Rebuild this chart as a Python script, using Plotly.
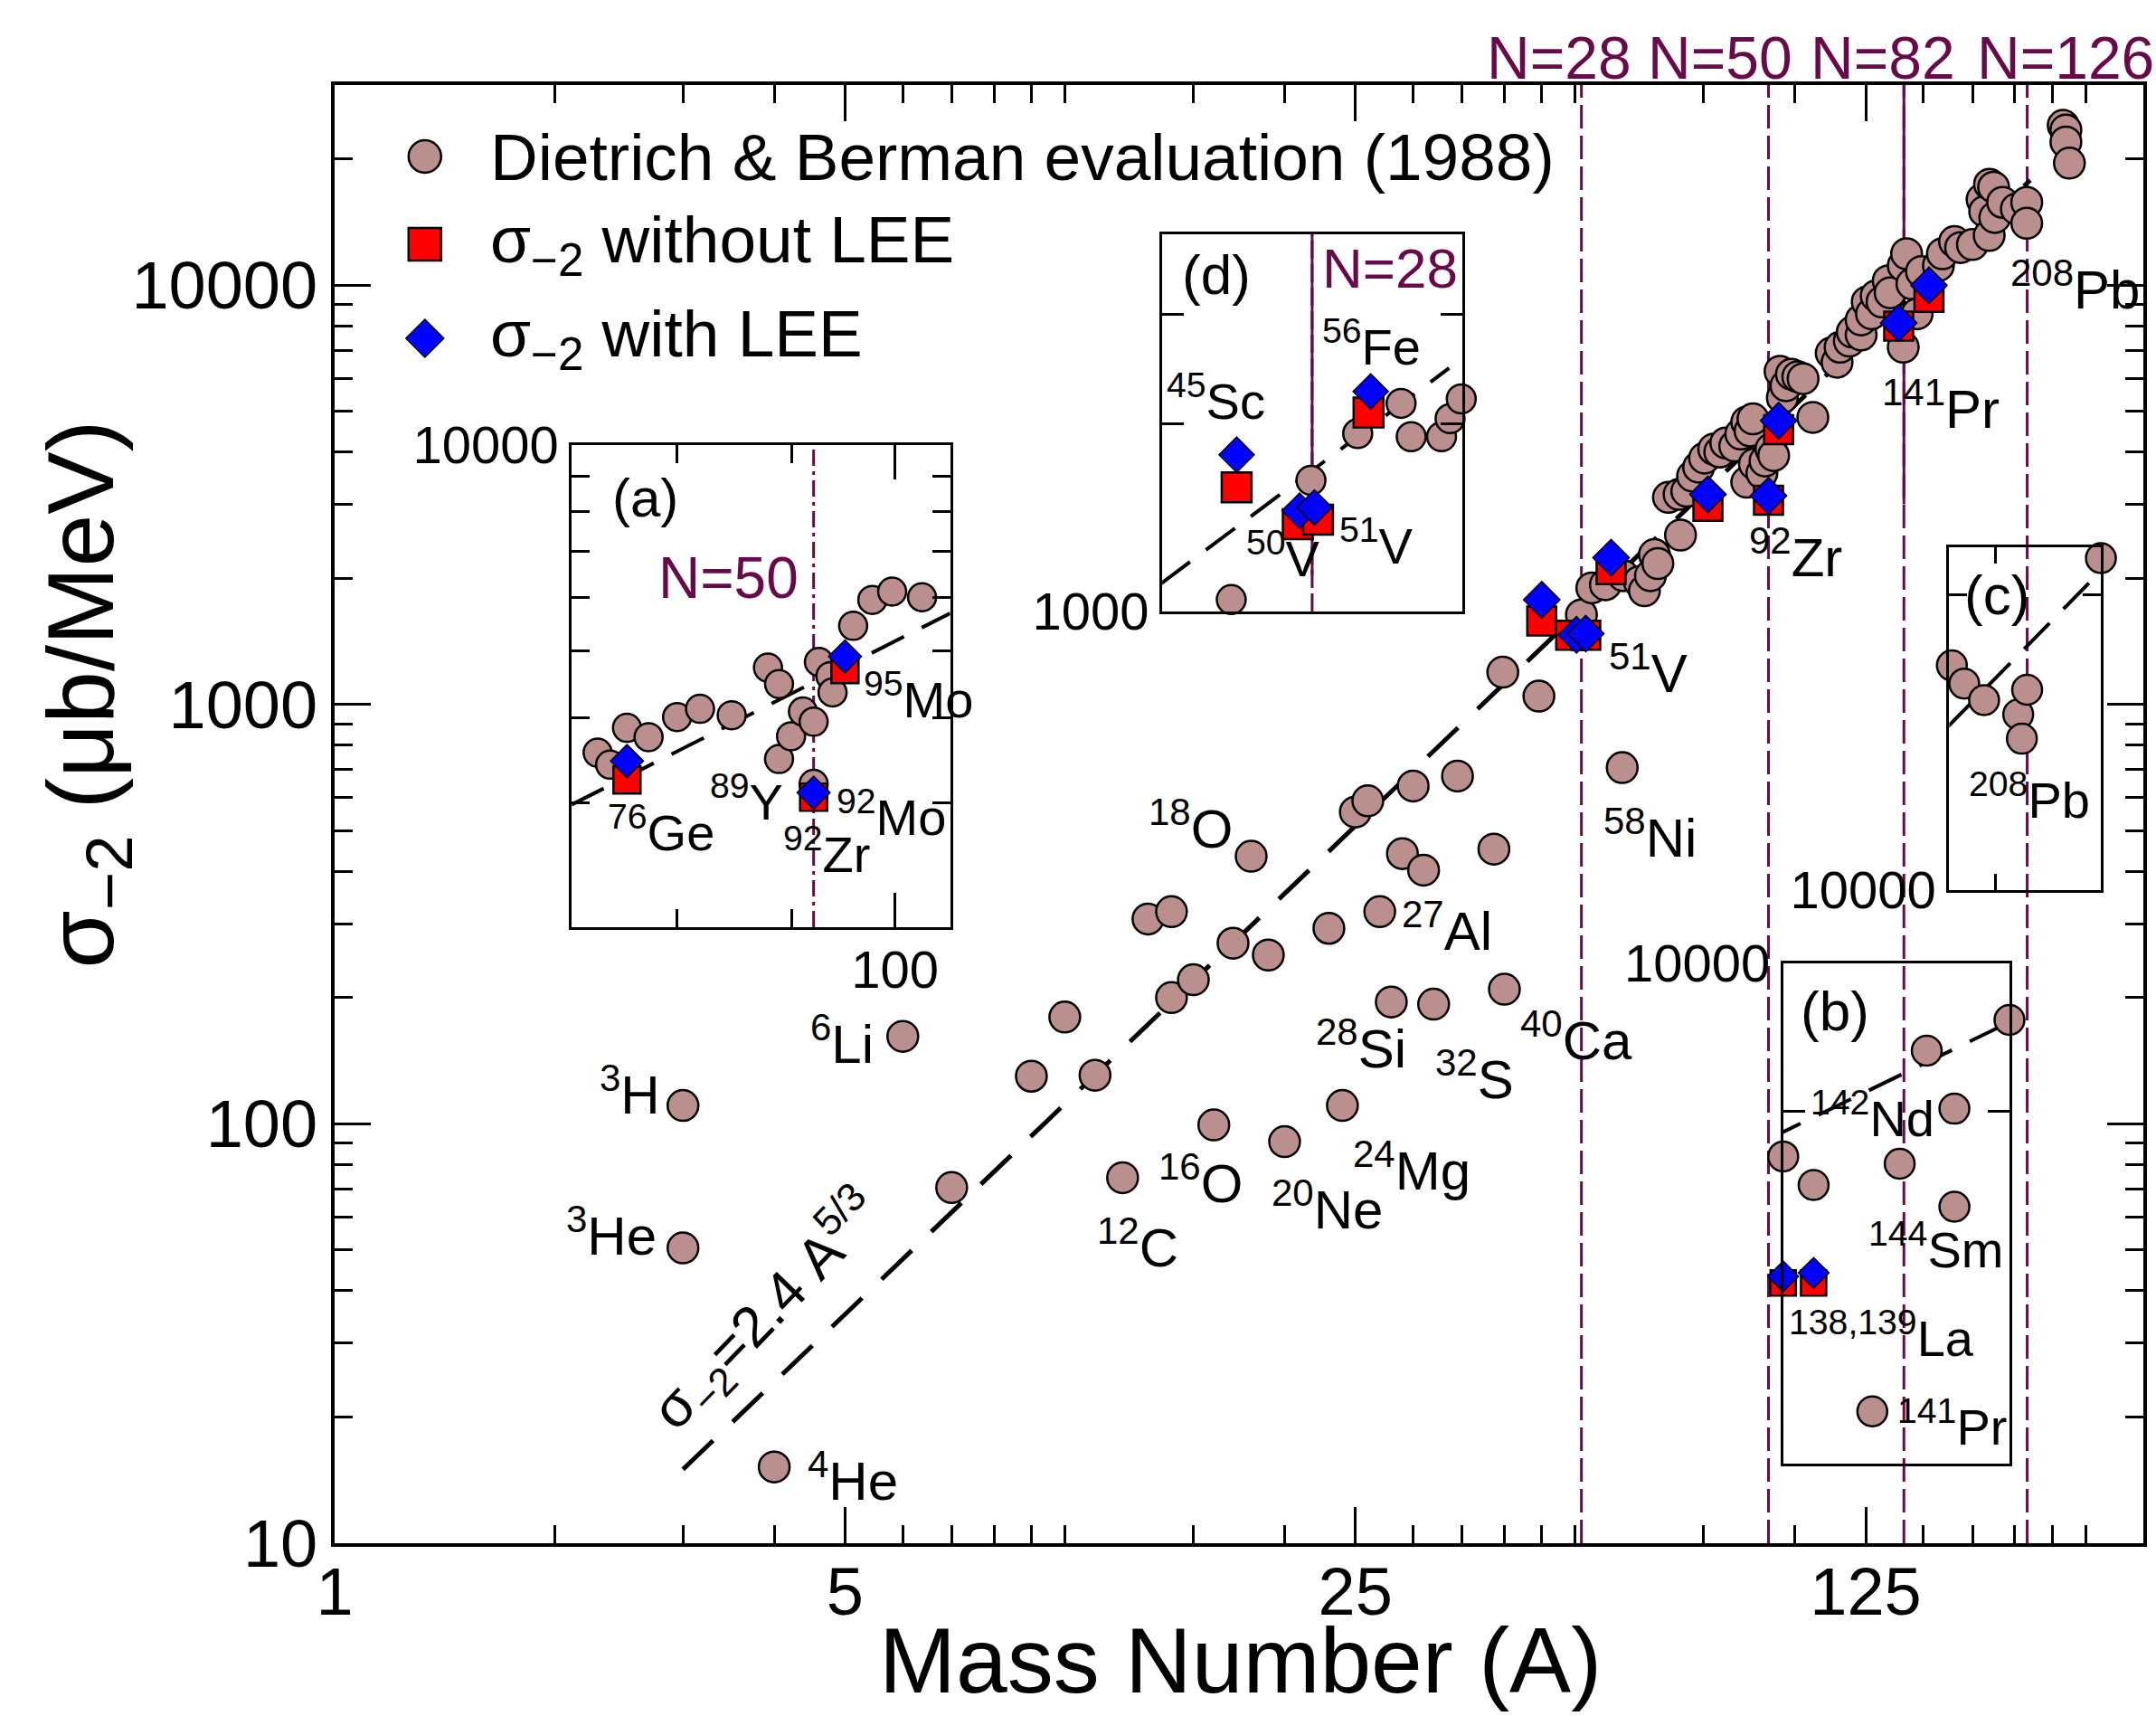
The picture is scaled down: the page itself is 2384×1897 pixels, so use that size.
import math
import plotly.graph_objects as go

# ---------------- data ----------------
# Main panel: Dietrich & Berman evaluation (1988)
db_A = [3, 3, 4, 6, 7, 9, 10, 11, 12, 13, 14, 14, 15, 16, 17, 18, 19, 20, 23, 24,
        25, 26, 27, 28, 29, 30, 31, 32, 34.5, 38.7, 40, 39.8, 44.6, 51, 52.7, 55, 58,
        58.2, 61.2, 62.2, 63.4, 64.2, 64.9, 67.1, 69.4, 69.7, 71.1, 72.4, 73.8, 75.2,
        77.4, 78.9, 80.4, 82.7, 84.3, 85.9, 85.9, 86.8, 87.6, 88, 90.1, 91, 92.7, 93.5,
        95.4, 96.1, 97.2, 98.9, 100.9, 102.6, 105.8, 112.1, 114.2, 115.3, 118.7, 119.8,
        123.2, 123.2, 125.6, 127.3, 129.2, 131.6, 134.2, 135, 140.7, 140.7, 142.2, 144.6,
        147, 149, 157.2, 159.2, 165.4, 168.6, 175, 180.4, 181.9, 184.5, 184.7, 187.1,
        187.8, 192.5, 201, 207.7, 207.7, 233, 235, 235, 237.6]
db_sigma = [110.6, 50.6, 15.2, 161.7, 70.5, 129.9, 179.8, 130.6, 74.4, 308, 320.6, 200,
            220.6, 99.4, 269.6, 434.5, 252.7, 90.7, 292.6, 110.6, 554, 589, 320.6, 195.3,
            441, 639, 402.8, 192.9, 675, 452, 209.4, 1194, 1047, 1636, 1897, 1930, 707,
            2028, 1963, 1867, 2028, 2278, 2168, 3118, 3170, 2535, 3225, 3502, 3681, 3869,
            4064, 3999, 4203, 4134, 4416, 4718, 3389, 4489, 4798, 3745, 3562, 3806, 4064,
            3921, 6232, 5388, 5755, 6131, 6048, 5980, 4837, 6884, 6550, 7112, 7357, 7727,
            7603, 8260, 9120, 8540, 9430, 9120, 10240, 9588, 11130, 7112, 11880, 10070,
            8540, 10770, 11130, 11880, 12700, 12290, 12500, 16010, 14990, 13130, 17400,
            17120, 14500, 15750, 15200, 15750, 14040, 24040, 23440, 21940, 19540]
# sigma_-2 without LEE
nolee_A = [45, 49.3, 51.7, 56, 76, 92, 95, 138.7, 152.6]
nolee_sigma = [1582, 1463, 1463, 2097, 2968, 3069, 4520, 7989, 9354]
# sigma_-2 with LEE
lee_A = [45, 50.2, 51.7, 56, 76, 92, 95, 138.7, 152.6]
lee_sigma = [1777, 1466, 1476, 2239, 3170, 3146, 4750, 8124, 9990]
# sigma_-2 = 2.4 A^(5/3) guide, end points as drawn
fit_A = [3, 210]
fit_sigma = [15, 17800]
# shell closures
shell_names = ["N=28", "N=50", "N=82", "N=126"]
shell_A = [51, 92, 141, 208]
shell_label_A = [47.6, 78.9, 132.1, 235]
n82_solid_sigma = [3000, 30000]

# isotope labels of main panel (text, A, sigma)
main_labels = [
    ("<sup>3</sup>H", 2.54, 120.0), ("<sup>3</sup>He", 2.39, 55.2),
    ("<sup>4</sup>He", 5.12, 14.4), ("<sup>6</sup>Li", 4.95, 158.0),
    ("<sup>18</sup>O", 14.88, 516.8), ("<sup>16</sup>O", 15.35, 73.7),
    ("<sup>12</sup>C", 12.57, 51.7), ("<sup>20</sup>Ne", 22.87, 63.9),
    ("<sup>24</sup>Mg", 29.83, 79.1), ("<sup>28</sup>Si", 25.43, 154.5),
    ("<sup>32</sup>S", 36.37, 130.6), ("<sup>27</sup>Al", 33.41, 294.3),
    ("<sup>40</sup>Ca", 50.25, 161.7), ("<sup>58</sup>Ni", 63.4, 490.8),
    ("<sup>51</sup>V", 63.0, 1211), ("<sup>92</sup>Zr", 100.1, 2285),
    ("<sup>141</sup>Pr", 158.5, 5166), ("<sup>208</sup>Pb", 242.2, 9965),
]
formula_pos = (3.9, 36)

# Inset (a)
a_db_A = [71.8, 73.75, 74.7, 76, 77.7, 80, 81.9, 84.6, 87.8, 88.8, 88.8, 89.9, 91, 92,
          92, 92.5, 93.6, 93.8, 95.8, 97.7, 99.7, 102.8]
a_db_sigma = [3162, 3556, 3415, 3866, 3746, 4008, 4121, 4033, 4732, 4478, 3481, 3758,
              4083, 3946, 3202, 4824, 4600, 4354, 5446, 5942, 6110, 5995]
a_nolee_A = [76, 92, 95]
a_nolee_sigma = [3243, 3062, 4701]
a_lee_A = [76, 92, 95]
a_lee_sigma = [3459, 3110, 4914]
a_fit_A = [71.8, 105.8]
a_fit_sigma = [2985, 5680]
a_shell_A = 92
a_labels = [("(a)", 77.4, 8362), ("<sup>76</sup>Ge", 78.7, 2747), ("<sup>89</sup>Y", 85.9, 3055),
            ("<sup>92</sup>Zr", 93.2, 2555), ("<sup>92</sup>Mo", 99.6, 2893),
            ("<sup>95</sup>Mo", 102.4, 4298)]
a_shell_label = ("N=50", 84.3, 6393)

# Inset (d)
d_db_A = [39.7, 44.6, 50.9, 55, 59.1, 60.1, 63.2, 64.1, 65.3]
d_db_sigma = [1182, 1045, 1624, 1930, 2158, 1908, 1908, 2040, 2194]
d_nolee_A = [45, 49.8, 51.5, 56]
d_nolee_sigma = [1582, 1381, 1404, 2086]
d_lee_A = [45, 49.95, 51.2, 56.2]
d_lee_sigma = [1785, 1452, 1469, 2255]
d_fit_A = [39.7, 64]
d_fit_sigma = [1109, 2458]
d_shell_A = 51
d_solid_sigma = [1143, 4031]
d_labels = [("(d)", 43.5, 3479), ("<sup>45</sup>Sc", 43.5, 2203), ("<sup>56</sup>Fe", 56.3, 2693),
            ("<sup>50</sup>V", 48.6, 1234), ("<sup>51</sup>V", 56.7, 1291)]
d_shell_label = ("N=28", 58.0, 3562)

# Inset (b)
b_db_A = [138.0, 139.0, 140.93, 141.83, 142.72, 143.63, 143.63, 145.44]
b_db_sigma = [8714, 8538, 7266, 8669, 9397, 9016, 8407, 9605]
b_nolee_A = [138, 139]
b_nolee_sigma = [7963, 7963]
b_lee_A = [138, 139]
b_lee_sigma = [8000, 8020]
b_fit_A = [137.5, 145.8]
b_fit_sigma = [8821, 9626]
b_labels = [("(b)", 139.71, 9668), ("<sup>142</sup>Nd", 140.95, 8978),
            ("<sup>144</sup>Sm", 143.02, 8175), ("<sup>138,139</sup>La", 141.24, 7674),
            ("<sup>141</sup>Pr", 143.55, 7205)]

# Inset (c)
c_db_A = [187.7, 191.1, 196.7, 206.7, 207.8, 209.4, 233.1]
c_db_sigma = [16950, 16240, 15620, 15110, 14270, 16010, 21810]
c_fit_A = [186, 233]
c_fit_sigma = [14600, 21150]
c_labels = [("(c)", 200.4, 20000), ("<sup>208</sup>Pb", 210, 12455)]

# ---------------- styling ----------------
FONT = "Liberation Sans, Arial, Helvetica, sans-serif"
PURPLE = "#680a4a"
BROWN = "#bc8f8f"
W, H = 2384, 1897
ML, MR, MT, MB = 370, 10, 94, 191
X_RANGE = [1, 300]
Y_RANGE = [10, 30000]

fig = go.Figure()


def pts(A, S, xa, ya, symbol, color, size, lw=2.5):
    fig.add_trace(go.Scatter(x=A, y=S, xaxis=xa, yaxis=ya, mode="markers",
                             marker=dict(symbol=symbol, size=size, color=color,
                                         line=dict(color="black", width=lw)),
                             cliponaxis=False, showlegend=False, hoverinfo="skip"))


def line(A, S, xa, ya, color, width, dash):
    fig.add_trace(go.Scatter(x=A, y=S, xaxis=xa, yaxis=ya, mode="lines",
                             line=dict(color=color, width=width, dash=dash),
                             cliponaxis=False, showlegend=False, hoverinfo="skip"))


# main panel
for A in shell_A:
    line([A, A], Y_RANGE, "x", "y", PURPLE, 3, "26px,8px")
line([shell_A[2], shell_A[2]], n82_solid_sigma, "x", "y", PURPLE, 3, "solid")
line(fit_A, fit_sigma, "x", "y", "black", 5, "46px,30px")
pts(db_A, db_sigma, "x", "y", "circle", BROWN, 34)
pts(nolee_A, nolee_sigma, "x", "y", "square", "red", 32)
pts(lee_A, lee_sigma, "x", "y", "diamond", "blue", 31, 1.5)

# inset (a)
line([a_shell_A, a_shell_A], [10 ** 3.2962, 10000], "x2", "y2", PURPLE, 3, "18px,6px,4px,6px")
line(a_fit_A, a_fit_sigma, "x2", "y2", "black", 4, "40px,22px")
pts(a_db_A, a_db_sigma, "x2", "y2", "circle", BROWN, 31)
pts(a_nolee_A, a_nolee_sigma, "x2", "y2", "square", "red", 30)
pts(a_lee_A, a_lee_sigma, "x2", "y2", "diamond", "blue", 28, 1.5)

# inset (d)
line([d_shell_A, d_shell_A], [1000, 4031], "x3", "y3", PURPLE, 3, "20px,6px")
line([d_shell_A, d_shell_A], d_solid_sigma, "x3", "y3", PURPLE, 3, "solid")
line(d_fit_A, d_fit_sigma, "x3", "y3", "black", 4, "40px,22px")
pts(d_db_A, d_db_sigma, "x3", "y3", "circle", BROWN, 32)
pts(d_nolee_A, d_nolee_sigma, "x3", "y3", "square", "red", 33)
pts(d_lee_A, d_lee_sigma, "x3", "y3", "diamond", "blue", 30, 1.5)

# inset (b)
line(b_fit_A, b_fit_sigma, "x4", "y4", "black", 4, "40px,22px")
pts(b_db_A, b_db_sigma, "x4", "y4", "circle", BROWN, 33)
pts(b_nolee_A, b_nolee_sigma, "x4", "y4", "square", "red", 28)
pts(b_lee_A, b_lee_sigma, "x4", "y4", "diamond", "blue", 26, 1.5)

# inset (c)
line(c_fit_A, c_fit_sigma, "x5", "y5", "black", 4, "40px,22px")
pts(c_db_A, c_db_sigma, "x5", "y5", "circle", BROWN, 33)

pw = W - ML - MR
ph = H - MT - MB


def dom_x(px0, px1):
    return [(px0 - ML) / pw, (px1 - ML) / pw]


def dom_y(py_top, py_bot):
    return [(H - MB - py_bot) / ph, (H - MB - py_top) / ph]


tickfont_main = dict(family=FONT, size=74, color="black")
tickfont_in = dict(family=FONT, size=58, color="black")


def axis(kind, rng, tickvals, ticktext, minor_vals, major_len, minor_len, lw, font,
         domain, anchor, show=True, standoff=0):
    d = dict(type=kind, range=rng, domain=domain, anchor=anchor,
             showline=True, linewidth=lw, linecolor="black", mirror="allticks",
             showgrid=False, zeroline=False, tickmode="array",
             tickvals=tickvals, ticktext=ticktext, ticks="inside" if show else "",
             ticklen=major_len, tickwidth=3, tickcolor="black",
             showticklabels=bool(ticktext), tickfont=font, ticklabelstandoff=standoff)
    if minor_vals:
        d["minor"] = dict(tickmode="array", tickvals=minor_vals, ticks="inside",
                          ticklen=minor_len, tickwidth=3, tickcolor="black", showgrid=False)
    return d


lg = math.log10
x_minor = [2, 3, 4, 6, 7, 8, 9, 10, 15, 20, 30, 35, 40, 45, 50, 75, 100, 150, 175, 200, 225, 250]
y_minor = [m * 10 ** e for e in (1, 2, 3) for m in range(2, 10)] + [20000]

layout = dict(
    width=W, height=H, margin=dict(l=ML, r=MR, t=MT, b=MB, pad=0),
    paper_bgcolor="white", plot_bgcolor="rgba(0,0,0,0)", showlegend=False,
    font=dict(family=FONT, color="black"),
    xaxis=axis("log", [lg(X_RANGE[0]), lg(X_RANGE[1])], [1, 5, 25, 125], ["1", "5", "25", "125"],
               x_minor, 40, 20, 4, tickfont_main, [0, 1], "y", standoff=-14),
    yaxis=axis("log", [lg(Y_RANGE[0]), lg(Y_RANGE[1])], [10, 100, 1000, 10000],
               ["10", "100", "1000", "10000"], y_minor, 40, 20, 4, tickfont_main, [0, 1], "x"),
    # inset (a)
    xaxis2=axis("log", [lg(71.84), lg(105.8)], [100], ["100"], [80, 90], 38, 20, 3,
                tickfont_in, dom_x(633, 1052), "y2", standoff=-6),
    yaxis2=axis("log", [3.2962, 4.0], [10000], ["10000"], [3000, 4000, 5000, 6000, 7000, 8000, 9000],
                38, 20, 3, tickfont_in, dom_y(492, 1025), "x2"),
    # inset (d)
    xaxis3=axis("log", [lg(39.78), lg(65.37)], [], [], None, 0, 0, 3, tickfont_in,
                dom_x(1287, 1619), "y3", show=False),
    yaxis3=axis("log", [3.0, lg(4031)], [1000], ["1000"], [2000, 3000], 38, 24, 3,
                tickfont_in, dom_y(259, 676), "x3"),
    # inset (b)
    xaxis4=axis("linear", [138, 145.45], [], [], None, 0, 0, 3, tickfont_in,
                dom_x(1975, 2226), "y4", show=False),
    yaxis4=axis("log", [lg(7000), 4.0], [10000], ["10000"], [9000], 38, 24, 3,
                tickfont_in, dom_y(1065, 1618), "x4"),
    # inset (c)
    xaxis5=axis("log", [lg(187), lg(233.1)], [], [], [200], 38, 18, 3, tickfont_in,
                dom_x(2159, 2327), "y5"),
    yaxis5=axis("log", [4.0, lg(22370)], [10000], ["10000"], [20000], 38, 20, 3,
                tickfont_in, dom_y(605, 984), "x5"),
)
fig.update_layout(**layout)

ann = []


def label(text, x, y, xref, yref, size, color="black", logx=True, **kw):
    ann.append(dict(text=text, x=lg(x) if logx else x, y=lg(y), xref=xref, yref=yref,
                    showarrow=False, xanchor="center", yanchor="middle", borderpad=0,
                    font=dict(family=FONT, size=size, color=color), **kw))


for t, A, s in main_labels:
    label(t, A, s, "x", "y", 60)
label("σ<sub>−2</sub>=2.4 A<sup>5/3</sup>", formula_pos[0], formula_pos[1], "x", "y", 63,
      textangle=-46)
for t, A, s in a_labels:
    label(t, A, s, "x2", "y2", 56 if t != "(a)" else 60)
label(a_shell_label[0], a_shell_label[1], a_shell_label[2], "x2", "y2", 64, PURPLE)
for t, A, s in d_labels:
    label(t, A, s, "x3", "y3", 56 if t != "(d)" else 62)
label(d_shell_label[0], d_shell_label[1], d_shell_label[2], "x3", "y3", 62, PURPLE)
for t, A, s in b_labels:
    ann.append(dict(text=t, x=A, y=lg(s), xref="x4", yref="y4", showarrow=False,
                    borderpad=0,
                    font=dict(family=FONT, size=56 if t != "(b)" else 62, color="black")))
for t, A, s in c_labels:
    label(t, A, s, "x5", "y5", 56 if t != "(c)" else 62)

# shell-closure labels above the frame
for name, A in zip(shell_names, shell_label_A):
    ann.append(dict(text=name, x=lg(A), y=(H - MB - 64) / ph, xref="x", yref="paper",
                    showarrow=False, xanchor="center", yanchor="middle",
                    font=dict(family=FONT, size=66, color=PURPLE)))

# axis titles
ann.append(dict(text="Mass Number (A)", x=0.5005, y=(H - MB - 1836) / ph, xref="paper",
                yref="paper", showarrow=False, xanchor="center", yanchor="middle",
                font=dict(family=FONT, size=102, color="black")))
ann.append(dict(text="σ<sub>−2</sub> (μb/MeV)", x=(95 - ML) / pw, y=(H - MB - 768) / ph,
                xref="paper", yref="paper", showarrow=False, textangle=-90,
                xanchor="center", yanchor="middle",
                font=dict(family=FONT, size=104, color="black")))

# legend (drawn by hand so the symbols keep their size)
leg_x = (470 - ML) / pw
leg_rows = [(173, "circle", BROWN, "Dietrich &amp; Berman evaluation (1988)"),
            (270, "rect", "red", "σ<sub>−2</sub> without LEE"),
            (374, "diamond", "blue", "σ<sub>−2</sub> with LEE")]
shapes = []
for py, kind, col, txt in leg_rows:
    yy = (H - MB - py) / ph
    common = dict(xref="paper", yref="paper", xsizemode="pixel", ysizemode="pixel",
                  xanchor=leg_x, yanchor=yy, fillcolor=col, layer="above")
    if kind == "diamond":
        shapes.append(dict(type="path", path="M 0 21 L 21 0 L 0 -21 L -21 0 Z",
                           line=dict(color="black", width=1.5), **common))
    else:
        shapes.append(dict(type=kind, x0=-18, x1=18, y0=-18, y1=18,
                           line=dict(color="black", width=2.5), **common))
    ann.append(dict(text=txt, x=(540 - ML) / pw, y=yy, xref="paper", yref="paper",
                    showarrow=False, xanchor="left", yanchor="middle",
                    font=dict(family=FONT, size=73, color="black")))

fig.update_layout(annotations=ann, shapes=shapes)
fig.write_html("out.html")
